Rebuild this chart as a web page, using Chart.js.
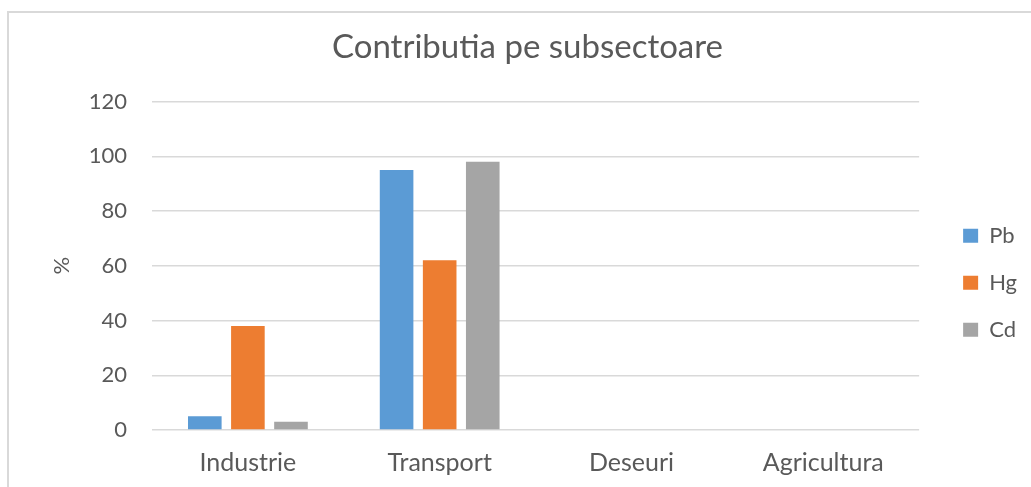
<!DOCTYPE html>
<html>
<head>
<meta charset="utf-8">
<title>Contributia pe subsectoare</title>
<script src="https://cdn.jsdelivr.net/npm/chart.js@4/dist/chart.umd.min.js"></script>
<style>
  html, body { margin: 0; padding: 0; background: #fff; }
  #wrap { width: 1031px; height: 487px; position: relative; }
</style>
</head>
<body>
<div id="wrap"><canvas id="chart"></canvas></div>
<script>
// categories and series
const categories = ['Industrie', 'Transport', 'Deseuri', 'Agricultura'];
const pbValues = [5, 95, 0, 0];
const hgValues = [38, 62, 0, 0];
const cdValues = [3, 98, 0, 0];
const yTicks = [0, 20, 40, 60, 80, 100, 120];

const textColor = '#595959';
const gridColor = '#d9d9d9';
const fontFamily = 'Lato, "Open Sans", sans-serif';

// light frame around the whole chart, like the spreadsheet chart border
const framePlugin = {
  id: 'frame',
  beforeDraw(chart) {
    const ctx = chart.ctx;
    ctx.save();
    ctx.fillStyle = '#fff';
    ctx.fillRect(0, 0, chart.width, chart.height);
    ctx.strokeStyle = gridColor;
    ctx.lineWidth = 2;
    ctx.strokeRect(8, 12, chart.width + 50, chart.height + 50);
    ctx.restore();
  }
};

function makeDataset(label, values, color) {
  return {
    label: label,
    data: values,
    backgroundColor: color,
    borderWidth: 0,
    categoryPercentage: 0.674,
    barPercentage: 0.78
  };
}

const ctx = document.getElementById('chart').getContext('2d');
new Chart(ctx, {
  type: 'bar',
  data: {
    labels: categories,
    datasets: [
      makeDataset('Pb', pbValues, '#5b9bd5'),
      makeDataset('Hg', hgValues, '#ed7d31'),
      makeDataset('Cd', cdValues, '#a5a5a5')
    ]
  },
  options: {
    responsive: true,
    maintainAspectRatio: false,
    animation: false,
    layout: { padding: { left: 28, right: 4, top: 0, bottom: 0 } },
    plugins: {
      title: {
        display: true,
        text: 'Contributia pe subsectoare',
        color: textColor,
        font: { family: fontFamily, size: 33, weight: 'normal' },
        padding: { top: 28, bottom: 34 }
      },
      legend: {
        display: true,
        position: 'right',
        fullSize: false,
        // empty title only pushes the items down a little
        title: {
          display: true,
          text: '',
          font: { family: fontFamily, size: 10 },
          padding: { top: 0, bottom: 22 }
        },
        labels: {
          color: textColor,
          font: { family: fontFamily, size: 22 },
          boxWidth: 15,
          boxHeight: 14,
          padding: 25
        }
      },
      tooltip: { enabled: false }
    },
    scales: {
      x: {
        grid: { display: false, drawTicks: false },
        border: { display: false },
        ticks: {
          color: textColor,
          font: { family: fontFamily, size: 25 },
          padding: 18
        },
        afterFit(scale) { scale.height = 57; }
      },
      y: {
        min: 0,
        max: 120,
        afterBuildTicks(scale) {
          scale.ticks = yTicks.map(v => ({ value: v }));
        },
        grid: { color: gridColor, lineWidth: 1.5, drawTicks: false },
        border: { display: false },
        ticks: {
          color: textColor,
          font: { family: fontFamily, size: 22 },
          padding: 25
        },
        title: {
          display: true,
          text: '%',
          color: textColor,
          font: { family: fontFamily, size: 22 },
          padding: { top: 21, bottom: 0 }
        },
        afterFit(scale) { scale.width = 124; }
      },
      // empty spacer between the plot and the legend
      gap: {
        type: 'linear',
        position: 'right',
        display: true,
        grid: { display: false, drawTicks: false },
        border: { display: false },
        ticks: { display: false },
        afterFit(scale) { scale.width = 19; }
      }
    }
  },
  plugins: [framePlugin]
});
</script>
</body>
</html>
